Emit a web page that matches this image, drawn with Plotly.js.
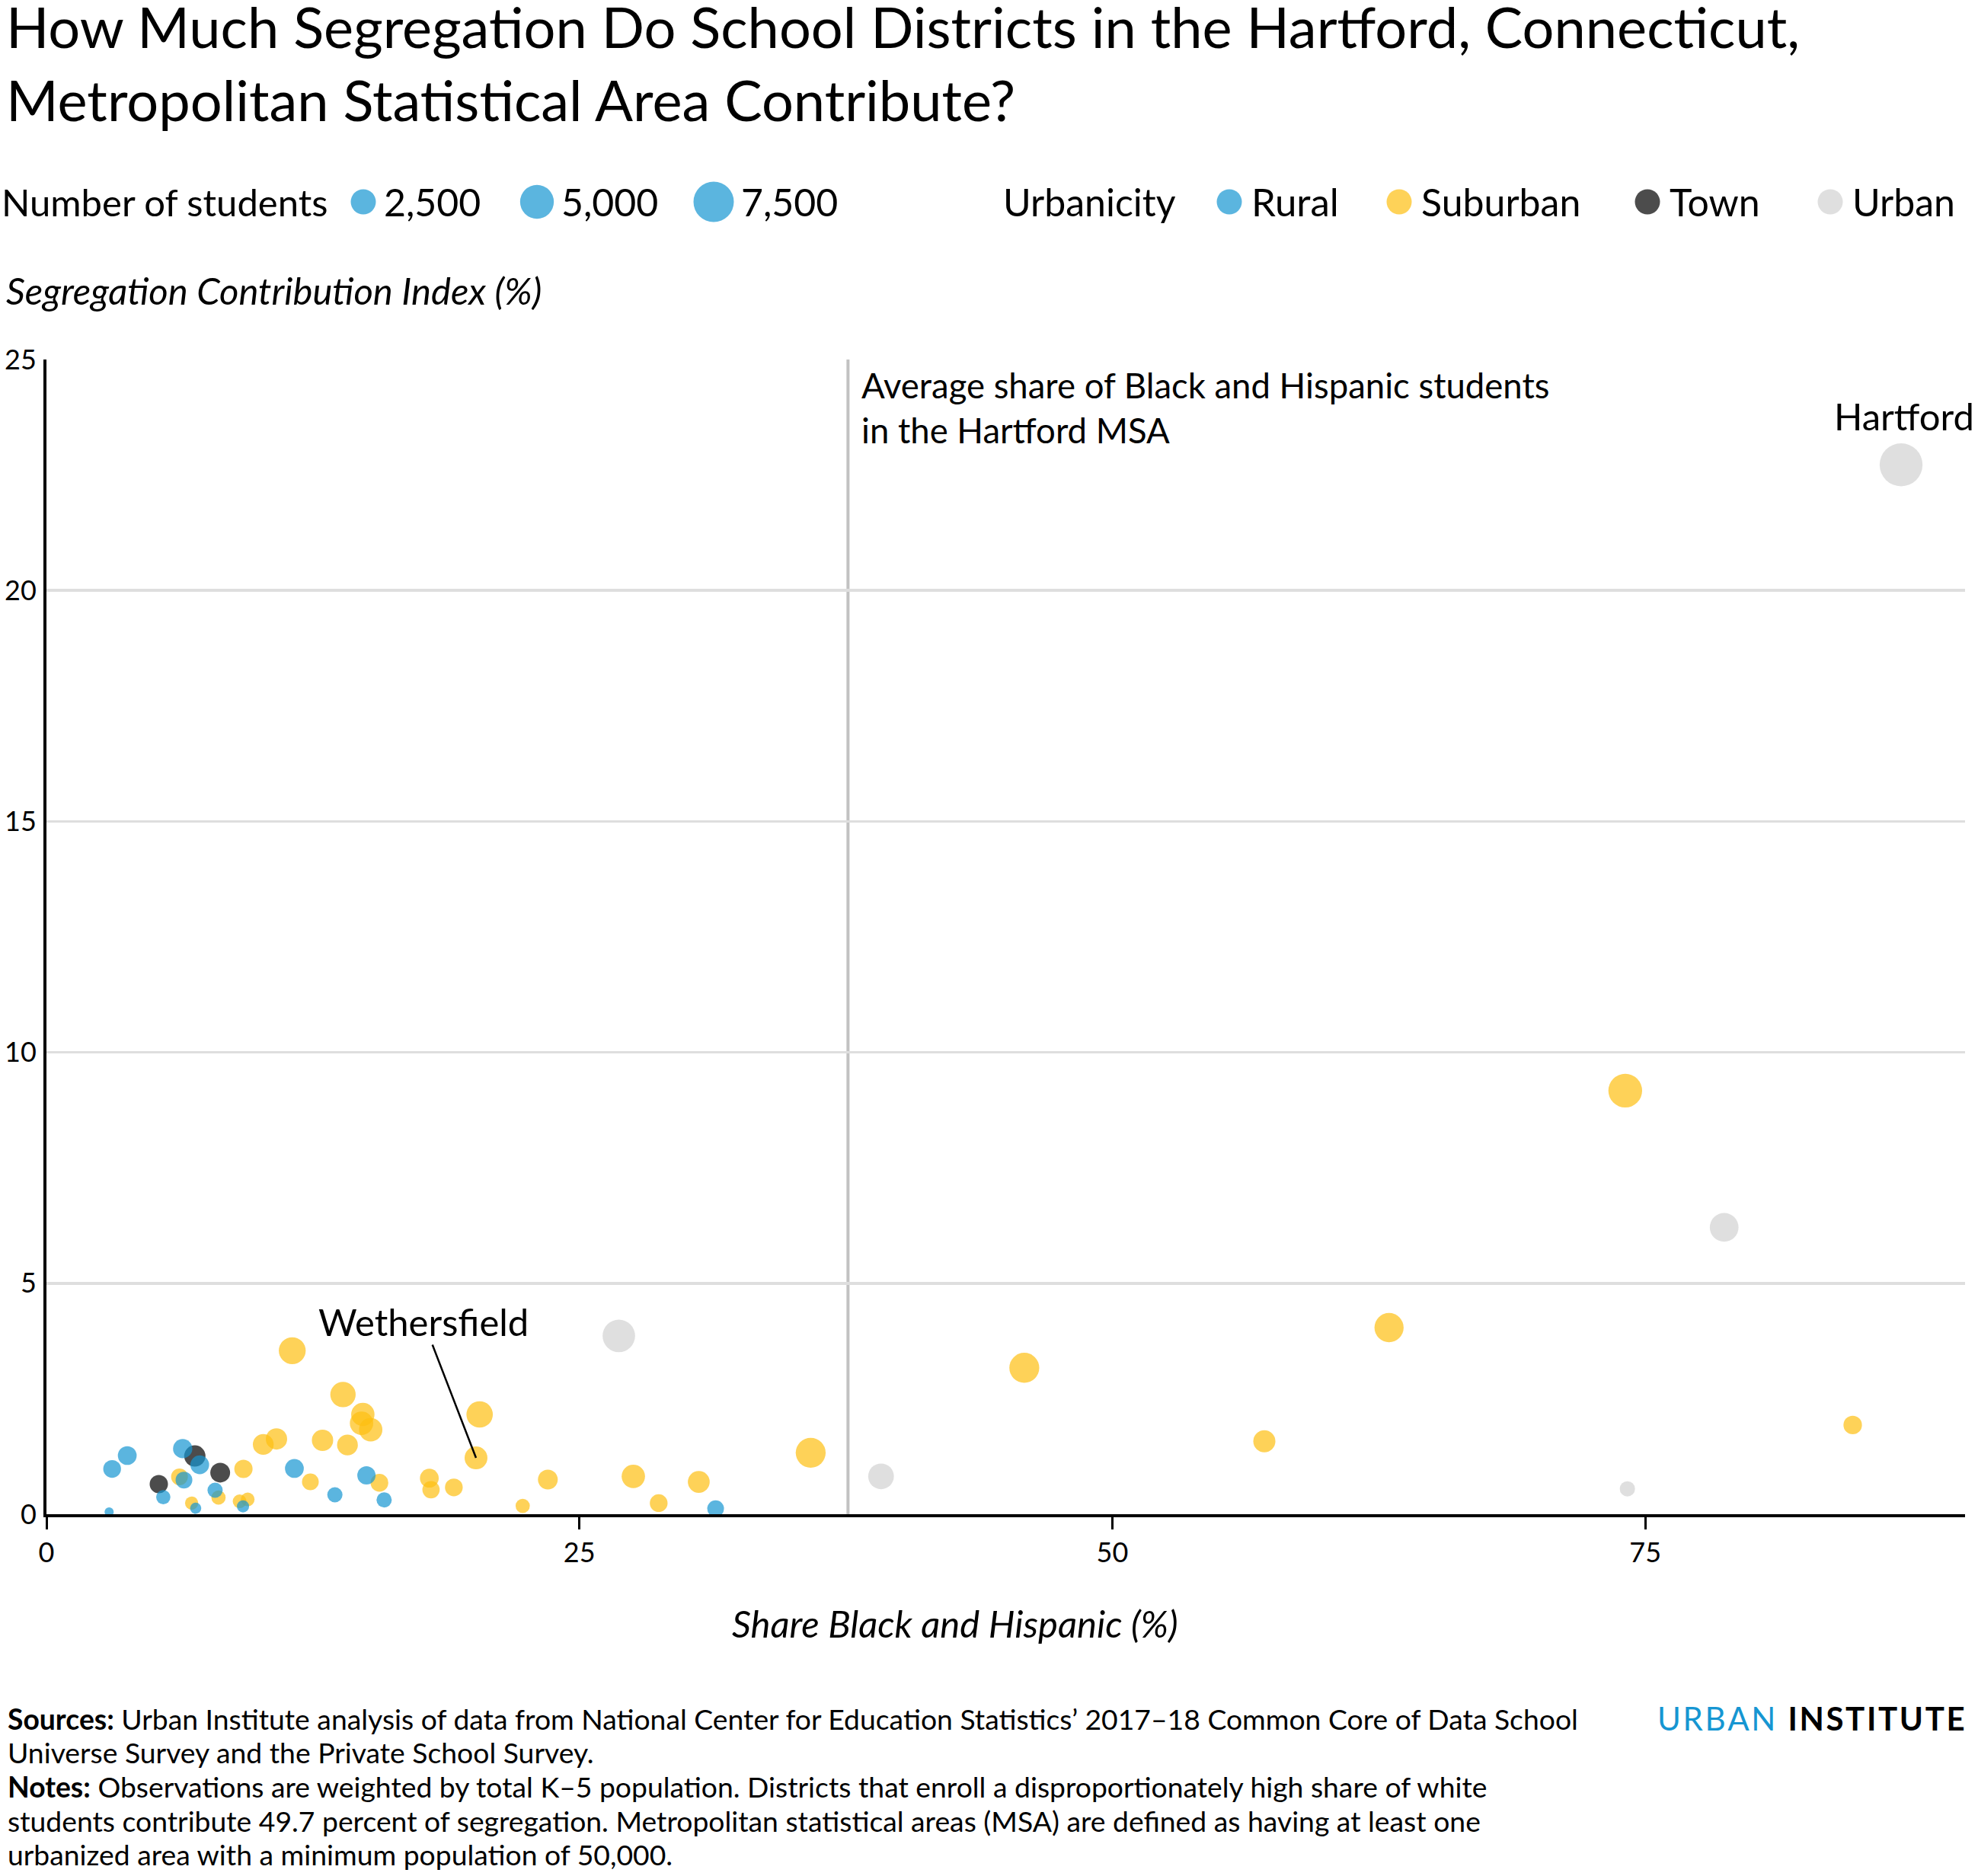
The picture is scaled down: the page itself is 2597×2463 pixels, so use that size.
<!DOCTYPE html>
<html>
<head>
<meta charset="utf-8">
<script src="https://cdn.plot.ly/plotly-3.0.1.min.js"></script>
<style>
html,body{margin:0;padding:0;background:#fff;}
#chart{width:2597px;height:2463px;}
</style>
</head>
<body>
<div id="chart"></div>
<script>
// ---- Data ----
// Share Black and Hispanic (%), Segregation Contribution Index (%), number of students
const ruralX = [2.94, 3.08, 3.79, 5.48, 6.45, 6.39, 7.19, 7.91, 7.00, 9.22, 11.63, 13.53, 15.01, 15.84, 31.39];
const ruralY = [0.05, 0.98, 1.27, 0.37, 0.74, 1.42, 1.07, 0.52, 0.13, 0.17, 0.99, 0.42, 0.84, 0.31, 0.12];
const ruralN = [133, 1039, 1211, 567, 891, 1289, 1211, 686, 272, 356, 1211, 686, 1123, 686, 891];

const townX = [5.27, 6.96, 8.15];
const townY = [0.65, 1.26, 0.90];
const townN = [1123, 1668, 1382];

const suburbanX = [6.24, 8.07, 6.81, 9.24, 9.06, 9.44, 10.17, 10.79, 11.53, 12.38, 12.95, 13.91, 14.12, 14.84, 14.78, 15.21, 15.62, 20.32, 20.15, 17.96, 18.04, 19.11, 22.34, 23.52, 27.53, 28.72, 30.60, 35.85, 45.87, 57.13, 62.98, 74.06, 84.73];
const suburbanY = [0.81, 0.36, 0.24, 0.98, 0.28, 0.32, 1.51, 1.63, 3.54, 0.70, 1.60, 2.59, 1.50, 2.16, 1.97, 1.83, 0.68, 2.16, 1.22, 0.78, 0.53, 0.58, 0.18, 0.75, 0.82, 0.24, 0.70, 1.33, 3.17, 1.58, 4.04, 9.17, 1.93];
const suburbanN = [891, 567, 453, 1123, 507, 507, 1565, 1668, 2940, 891, 1668, 2556, 1565, 2096, 2096, 2096, 1039, 2820, 1981, 1211, 969, 1039, 567, 1382, 2096, 1039, 1774, 3786, 3786, 1821, 3565, 4998, 1160];

const urbanX = [26.85, 39.15, 74.16, 78.70, 87.00];
const urbanY = [3.86, 0.82, 0.55, 6.21, 22.72];
const urbanN = [4593, 2630, 686, 3435, 8590];

const avgShare = 37.6;               // average share of Black and Hispanic students in the MSA
const wethersfieldIdx = 18;          // index in suburban arrays
const hartfordIdx = 4;               // index in urban arrays
const sizeLegendValues = [2500, 5000, 7500];
const sizeLegendLabels = ['2,500', '5,000', '7,500'];
const categories = ['Rural', 'Suburban', 'Town', 'Urban'];
const xTicks = [0, 25, 50, 75];
const yTicks = [0, 5, 10, 15, 20, 25];

const footerLines = [
  '<b>Sources:</b> Urban Institute analysis of data from National Center for Education Statistics’ 2017–18 Common Core of Data School',
  'Universe Survey and the Private School Survey.',
  '<b>Notes:</b> Observations are weighted by total K–5 population. Districts that enroll a disproportionately high share of white',
  'students contribute 49.7 percent of segregation. Metropolitan statistical areas (MSA) are defined as having at least one',
  'urbanized area with a minimum population of 50,000.'
];

// ---- Styles ----
const W = 2597, H = 2463;
const M = {l: 61, r: 17, t: 472, b: 475};
const PW = W - M.l - M.r, PH = H - M.t - M.b;
const colors = {Rural: '#1696d2', Suburban: '#fdbf11', Town: '#000000', Urban: '#d2d2d2'};
const OP = 0.7;
const FONT = 'Lato, "Open Sans", sans-serif';
function sizeFor(n) { return 5.7 + 0.546 * Math.sqrt(n); }
function px(x) { return (x - M.l) / PW; }
function py(y) { return (H - M.b - y) / PH; }
function hexA(hex, a) {
  const r = parseInt(hex.slice(1,3),16), g = parseInt(hex.slice(3,5),16), b = parseInt(hex.slice(5,7),16);
  return 'rgba(' + r + ',' + g + ',' + b + ',' + a + ')';
}

function trace(name, xs, ys, ns) {
  return {
    type: 'scatter', mode: 'markers', name: name, x: xs, y: ys,
    marker: {color: colors[name], opacity: OP, size: ns.map(sizeFor), line: {width: 0}},
    showlegend: false, hoverinfo: 'skip'
  };
}
const data = [
  trace('Urban', urbanX, urbanY, urbanN),
  trace('Suburban', suburbanX, suburbanY, suburbanN),
  trace('Town', townX, townY, townN),
  trace('Rural', ruralX, ruralY, ruralN)
];

const shapes = [];
const annotations = [];
const LEGF = 50;

// reference line
shapes.push({type: 'line', xref: 'x', yref: 'y', x0: avgShare, x1: avgShare, y0: 0, y1: 25,
  line: {color: '#c2c2c2', width: 4}, layer: 'below'});

// size legend
const legY = 265;
annotations.push({xref: 'paper', yref: 'paper', x: px(0), y: py(legY), xanchor: 'left', yanchor: 'middle',
  text: 'Number of students', showarrow: false, font: {family: FONT, size: 49, color: '#000'}});
const sizeCx = [477, 705, 937];
sizeLegendValues.forEach((v, i) => {
  const d = sizeFor(v);
  shapes.push({type: 'circle', xref: 'paper', yref: 'paper', xsizemode: 'pixel', ysizemode: 'pixel',
    xanchor: px(sizeCx[i]), yanchor: py(legY), x0: -d/2, x1: d/2, y0: -d/2, y1: d/2,
    fillcolor: hexA(colors.Rural, OP), line: {width: 0}});
  annotations.push({xref: 'paper', yref: 'paper', x: px(sizeCx[i] + d/2 + 8), y: py(legY), xanchor: 'left', yanchor: 'middle',
    text: sizeLegendLabels[i], showarrow: false, font: {family: FONT, size: LEGF, color: '#000'}});
});

// urbanicity legend
annotations.push({xref: 'paper', yref: 'paper', x: px(1315), y: py(legY), xanchor: 'left', yanchor: 'middle',
  text: 'Urbanicity', showarrow: false, font: {family: FONT, size: LEGF, color: '#000'}});
const catCx = [1614, 1837, 2163, 2403];
categories.forEach((c, i) => {
  const d = 33;
  shapes.push({type: 'circle', xref: 'paper', yref: 'paper', xsizemode: 'pixel', ysizemode: 'pixel',
    xanchor: px(catCx[i]), yanchor: py(legY), x0: -d/2, x1: d/2, y0: -d/2, y1: d/2,
    fillcolor: hexA(colors[c], OP), line: {width: 0}});
  annotations.push({xref: 'paper', yref: 'paper', x: px(catCx[i] + d/2 + 10), y: py(legY), xanchor: 'left', yanchor: 'middle',
    text: c, showarrow: false, font: {family: FONT, size: c === 'Rural' ? 51 : LEGF, color: '#000'}});
});

// y axis title
annotations.push({xref: 'paper', yref: 'paper', x: px(6), y: py(381), xanchor: 'left', yanchor: 'middle',
  text: '<i>Segregation Contribution Index (%)</i>', showarrow: false, font: {family: FONT, size: 49, color: '#000'}});
// x axis title
annotations.push({xref: 'paper', yref: 'paper', x: px(1254), y: py(2131), xanchor: 'center', yanchor: 'middle',
  text: '<i>Share Black and Hispanic (%)</i>', showarrow: false, font: {family: FONT, size: 49, color: '#000'}});

// reference line label
annotations.push({xref: 'x', yref: 'paper', x: avgShare, y: py(472), xanchor: 'left', yanchor: 'top', xshift: 16, yshift: -4,
  align: 'left', text: 'Average share of Black and Hispanic students<br>in the Hartford MSA', showarrow: false,
  font: {family: FONT, size: 45.5, color: '#000'}});

// Hartford label
annotations.push({xref: 'x', yref: 'y', x: urbanX[hartfordIdx], y: urbanY[hartfordIdx], xanchor: 'center', yanchor: 'middle',
  xshift: 4, yshift: 64, text: 'Hartford', showarrow: false, font: {family: FONT, size: 49, color: '#000'}});

// Wethersfield label
annotations.push({xref: 'x', yref: 'y', x: suburbanX[wethersfieldIdx], y: suburbanY[wethersfieldIdx],
  text: 'Wethersfield', showarrow: true, arrowhead: 0, arrowwidth: 2.5, arrowcolor: '#000', standoff: 0,
  ax: -69, ay: -179, font: {family: FONT, size: 49, color: '#000'}});

// footer
const footY = [2256, 2300, 2345, 2390, 2434];
footerLines.forEach((t, i) => {
  annotations.push({xref: 'paper', yref: 'paper', x: px(8), y: py(footY[i]), xanchor: 'left', yanchor: 'middle', align: 'left',
    text: t, showarrow: false, font: {family: FONT, size: 37.3, color: '#000'}});
});

// logo
const hs = '\u200A';
annotations.push({xref: 'paper', yref: 'paper', x: px(2582), y: py(2256), xanchor: 'right', yanchor: 'middle',
  text: '<span style="color:#1696d2">' + 'URBAN'.split('').join(hs) + '</span>' + hs + ' ' + hs +
        '<b>' + 'INSTITUTE'.split('').join(hs) + '</b>',
  showarrow: false, font: {family: FONT, size: 42, color: '#000'}});

const layout = {
  width: W, height: H,
  margin: M,
  paper_bgcolor: '#fff', plot_bgcolor: '#fff',
  font: {family: FONT, color: '#000'},
  title: {
    text: 'How Much Segregation Do School Districts in the Hartford, Connecticut,<br>Metropolitan Statistical Area Contribute?',
    xref: 'container', yref: 'container', x: 8 / W, xanchor: 'left', y: 1 - 63 / H, yanchor: 'top',
    font: {family: FONT, size: 74, color: '#000'}
  },
  xaxis: {
    range: [0, 90], tickvals: xTicks, ticktext: xTicks.map(String),
    showgrid: false, zeroline: false, showline: true, linecolor: '#000', linewidth: 4,
    ticks: 'outside', ticklen: 16, tickwidth: 3, tickcolor: '#000',
    tickfont: {family: FONT, size: 36, color: '#000'}, fixedrange: true
  },
  yaxis: {
    range: [0, 25], tickvals: yTicks, ticktext: yTicks.map(String),
    showgrid: true, gridcolor: '#dedede', gridwidth: 3.5, zeroline: false,
    showline: true, linecolor: '#000', linewidth: 4, ticks: '',
    ticklabelstandoff: 2,
    tickfont: {family: FONT, size: 36, color: '#000'}, fixedrange: true
  },
  shapes: shapes,
  annotations: annotations,
  showlegend: false
};

Plotly.newPlot('chart', data, layout, {displayModeBar: false, staticPlot: true});
</script>
</body>
</html>
